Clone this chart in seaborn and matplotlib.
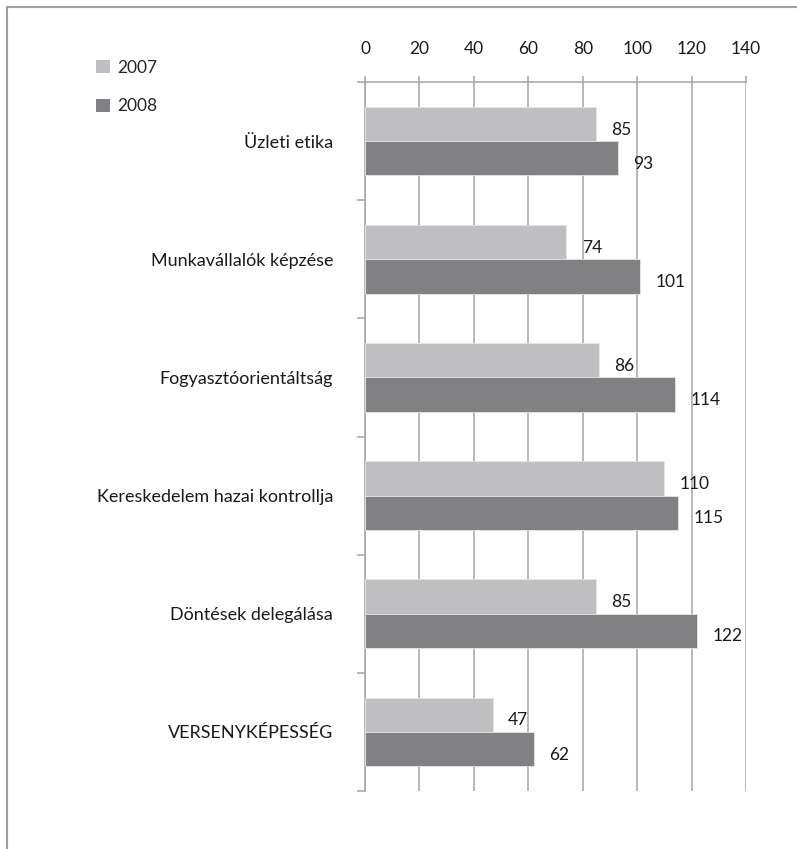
import matplotlib
matplotlib.use('Agg')
import matplotlib.pyplot as plt
from matplotlib.lines import Line2D
from matplotlib.patches import Patch
from matplotlib.ticker import MultipleLocator
import pandas as pd
import seaborn as sns

categories = [
    "Üzleti etika",
    "Munkavállalók képzése",
    "Fogyasztóorientáltság",
    "Kereskedelem hazai kontrollja",
    "Döntések delegálása",
    "VERSENYKÉPESSÉG",
]
years = ["2007", "2008"]
values_2007 = [85, 74, 86, 110, 85, 47]
values_2008 = [93, 101, 114, 115, 122, 62]

palette = {"2007": "#bebfc2", "2008": "#808184"}
grid_color = "#a3a4a6"

df = pd.DataFrame({
    "category": categories * 2,
    "year": ["2007"] * len(categories) + ["2008"] * len(categories),
    "value": values_2007 + values_2008,
})

sns.set_theme(style="white")
plt.rcParams['font.family'] = ['Lato', 'DejaVu Sans']
plt.rcParams['font.size'] = 12

fig = plt.figure(figsize=(7.97, 8.49), dpi=100)
ax = fig.add_axes([0.458, 0.0683, 0.478, 0.8351])

sns.barplot(data=df, y="category", x="value", hue="year", order=categories,
            hue_order=years, palette=palette, orient="h", width=0.58,
            edgecolor="#e6e6e6", linewidth=0.6, ax=ax, legend=False, zorder=3)

# value labels right of each bar, nudged slightly down
for container, year in zip(ax.containers, years):
    for bar in container:
        w = bar.get_width()
        ax.annotate(f"{w:.0f}", (w, bar.get_y() + bar.get_height() / 2),
                    xytext=(11, -4), textcoords="offset points",
                    ha="left", va="center", fontsize=12.5, color="#1a1a1a")

ax.set_xlim(0, 140)
ax.set_ylim(len(categories) - 0.5, -0.5)
ax.xaxis.set_major_locator(MultipleLocator(20))
ax.xaxis.tick_top()
ax.tick_params(axis="x", which="major", top=True, bottom=False, length=4,
               width=1.1, color=grid_color, pad=14, labelsize=12.5, labelcolor="#1a1a1a")
ax.grid(axis="x", color=grid_color, linewidth=1.1, zorder=0)
ax.set_axisbelow(True)

# category labels centred, tick marks at group boundaries
ax.set_yticks(range(len(categories)))
ax.set_yticks([i - 0.5 for i in range(len(categories) + 1)], minor=True)
ax.tick_params(axis="y", which="major", length=0, pad=23, labelsize=13, labelcolor="#1a1a1a")
ax.tick_params(axis="y", which="minor", left=True, length=5.5, width=1.1, color=grid_color)

ax.set_xlabel("")
ax.set_ylabel("")
for side in ["right", "bottom"]:
    ax.spines[side].set_visible(False)
for side in ["top", "left"]:
    ax.spines[side].set_color(grid_color)
    ax.spines[side].set_linewidth(1.1)

handles = [Patch(facecolor=palette[y], edgecolor="none", label=y) for y in years]
fig.legend(handles=handles, loc="upper left", bbox_to_anchor=(0.101, 0.948),
           frameon=False, fontsize=12.5, handlelength=0.8, handleheight=0.8,
           handletextpad=0.4, labelspacing=1.3)

# outer frame (only top and left visible in the crop)
fig.add_artist(Line2D([0.009, 0.009], [0, 0.992], color="#a0a0a0", linewidth=1.5))
fig.add_artist(Line2D([0.009, 1], [0.992, 0.992], color="#a0a0a0", linewidth=1.5))

plt.savefig("out.png", dpi=100)
plt.close()
